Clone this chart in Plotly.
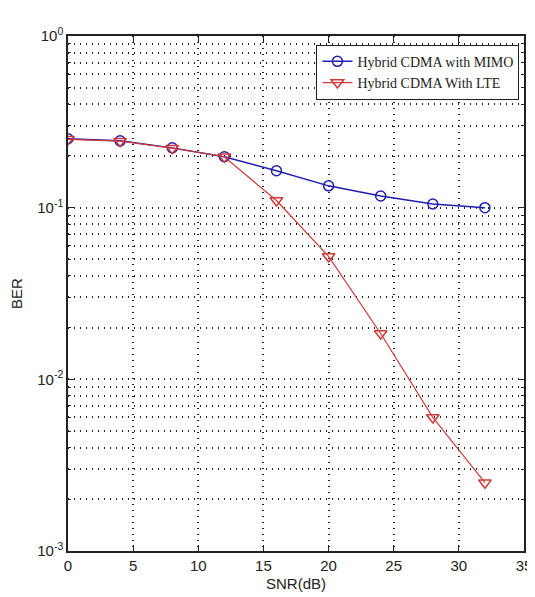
import plotly.graph_objects as go

snr = [0, 4, 8, 12, 16, 20, 24, 28, 32]
ber_mimo = [0.252, 0.245, 0.223, 0.198, 0.164, 0.134, 0.117, 0.105, 0.100]
ber_lte = [0.250, 0.244, 0.222, 0.198, 0.110, 0.052, 0.0185, 0.0060, 0.0025]

x_ticks = [0, 5, 10, 15, 20, 25, 30, 35]
y_ticks = [1e-3, 1e-2, 1e-1, 1]
y_labels = ["10<sup>-3</sup>", "10<sup>-2</sup>", "10<sup>-1</sup>", "10<sup>0</sup>"]
y_minor = [m * d for d in (1e-3, 1e-2, 1e-1) for m in range(2, 10)]

tick_font = dict(family="Liberation Sans Narrow, Arial Narrow, Liberation Sans, sans-serif", size=15, color="#222")
dots = "1px,5px"

fig = go.Figure()
fig.add_trace(go.Scatter(
    x=snr, y=ber_mimo, mode="lines+markers", name="Hybrid CDMA with MIMO",
    line=dict(color="#1f1fb0", width=1.5),
    marker=dict(symbol="circle-open", size=10, color="#1f1fb0", line=dict(width=1.5)),
))
fig.add_trace(go.Scatter(
    x=snr, y=ber_lte, mode="lines+markers", name="Hybrid CDMA With LTE",
    line=dict(color="#d03a3a", width=1.2),
    marker=dict(symbol="triangle-down-open", size=11, color="#d03a3a", line=dict(width=1.5)),
))

grid = dict(showgrid=True, gridcolor="#222", griddash=dots, gridwidth=1.5)
fig.update_layout(
    width=535, height=597,
    margin=dict(l=60, r=19, t=28, b=54, autoexpand=False),
    paper_bgcolor="white", plot_bgcolor="white",
    font=tick_font,
    showlegend=True,
    legend=dict(
        x=0.99, y=0.983, xanchor="right", yanchor="top",
        bgcolor="white", bordercolor="#222", borderwidth=1,
        font=dict(family="Liberation Serif, Times New Roman, serif", size=14, color="#222"),
        tracegroupgap=0,
    ),
    xaxis=dict(
        range=[0, 35], tickvals=x_ticks, ticks="inside", ticklen=6, tickcolor="#222",
        showline=True, linecolor="#222", linewidth=1.5, mirror="ticks", zeroline=False,
        title=dict(text="SNR(dB)", font=tick_font, standoff=6),
        **grid,
    ),
    yaxis=dict(
        type="log", range=[-3, 0], tickvals=y_ticks, ticktext=y_labels,
        ticks="inside", ticklen=6, tickcolor="#222",
        showline=True, linecolor="#222", linewidth=1.5, mirror="ticks", zeroline=False,
        title=dict(text="BER", font=tick_font, standoff=14),
        minor=dict(tickvals=y_minor, ticks="inside", ticklen=3, tickcolor="#222", showgrid=True,
                   gridcolor="#222", griddash=dots, gridwidth=1.5),
        **grid,
    ),
)

fig.write_html("out.html")
